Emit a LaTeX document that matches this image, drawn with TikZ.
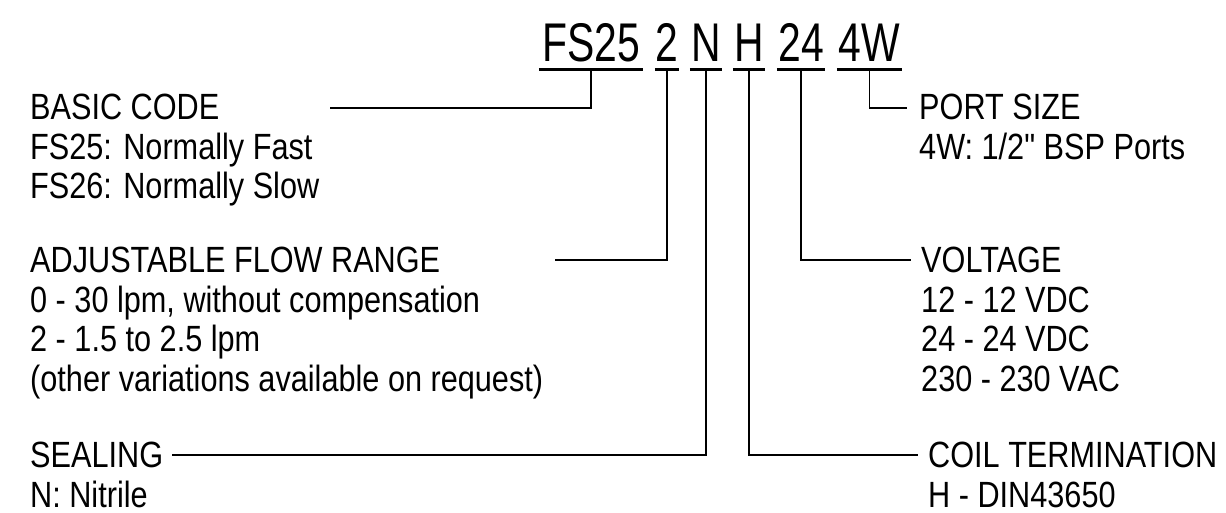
\documentclass[tikz,border=0pt]{standalone}
\usepackage{fontspec}
\setmainfont{Liberation Sans}[FakeStretch=0.75]
\newfontfamily\lblfont{Liberation Sans}[FakeStretch=0.84]
\begin{document}
\begin{tikzpicture}[x=1pt,y=-1pt,
  code/.style={inner sep=0pt,anchor=base,text depth=0pt,font=\fontsize{54.5}{54.5}\selectfont},
  lbl/.style={inner sep=0pt,anchor=north west,align=left,font=\lblfont\fontsize{36.5}{39.5}\selectfont},
  uline/.style={line width=3pt},
  conn/.style={line width=1.6pt}]
\useasboundingbox (0,0) rectangle (1226,513);
% code parts
\node[code,minimum width=104pt] (c1) at (591,62) {FS25};
\node[code,minimum width=24pt] (c2) at (667,62) {2};
\node[code,minimum width=32pt] (c3) at (706,62) {N};
\node[code,minimum width=32pt] (c4) at (749,62) {H};
\node[code,minimum width=48pt] (c5) at (801,62) {24};
\node[code,minimum width=65pt] (c6) at (869.5,62) {4W};
\foreach \n in {c1,c2,c3,c4,c5,c6}{
  \draw[uline] ([yshift=-7pt]\n.south west) -- ([yshift=-7pt]\n.south east);
}
% labels (top = baseline - cap height)
\node[lbl] (basic) at (30,94) {BASIC CODE\\FS25: Normally Fast\\FS26: Normally Slow};
\node[lbl] (flow) at (30,247) {ADJUSTABLE FLOW RANGE\\0 - 30 lpm, without compensation\\2 - 1.5 to 2.5 lpm\\(other variations available on request)};
\node[lbl] (seal) at (30,442) {SEALING\\N: Nitrile};
\node[lbl] (port) at (919,94) {PORT SIZE\\4W: 1/2" BSP Ports};
\node[lbl] (volt) at (921,247) {VOLTAGE\\12 - 12 VDC\\24 - 24 VDC\\230 - 230 VAC};
\node[lbl] (coil) at (928,442) {COIL TERMINATION\\H - DIN43650};
% free ends
\coordinate (e1) at (330,108);
\coordinate (e2) at (555,260);
\coordinate (e3) at (172,455);
\coordinate (e4) at (918,455);
\coordinate (e5) at (911,260);
\coordinate (e6) at (907,108);
\draw[conn] ([yshift=-9pt]c1.south) |- (e1);
\draw[conn] ([yshift=-9pt]c2.south) |- (e2);
\draw[conn] ([yshift=-9pt]c3.south) |- (e3);
\draw[conn] ([yshift=-9pt]c4.south) |- (e4);
\draw[conn] ([yshift=-9pt]c5.south) |- (e5);
\draw[conn] ([yshift=-9pt]c6.south) |- (e6);
\end{tikzpicture}
\end{document}
